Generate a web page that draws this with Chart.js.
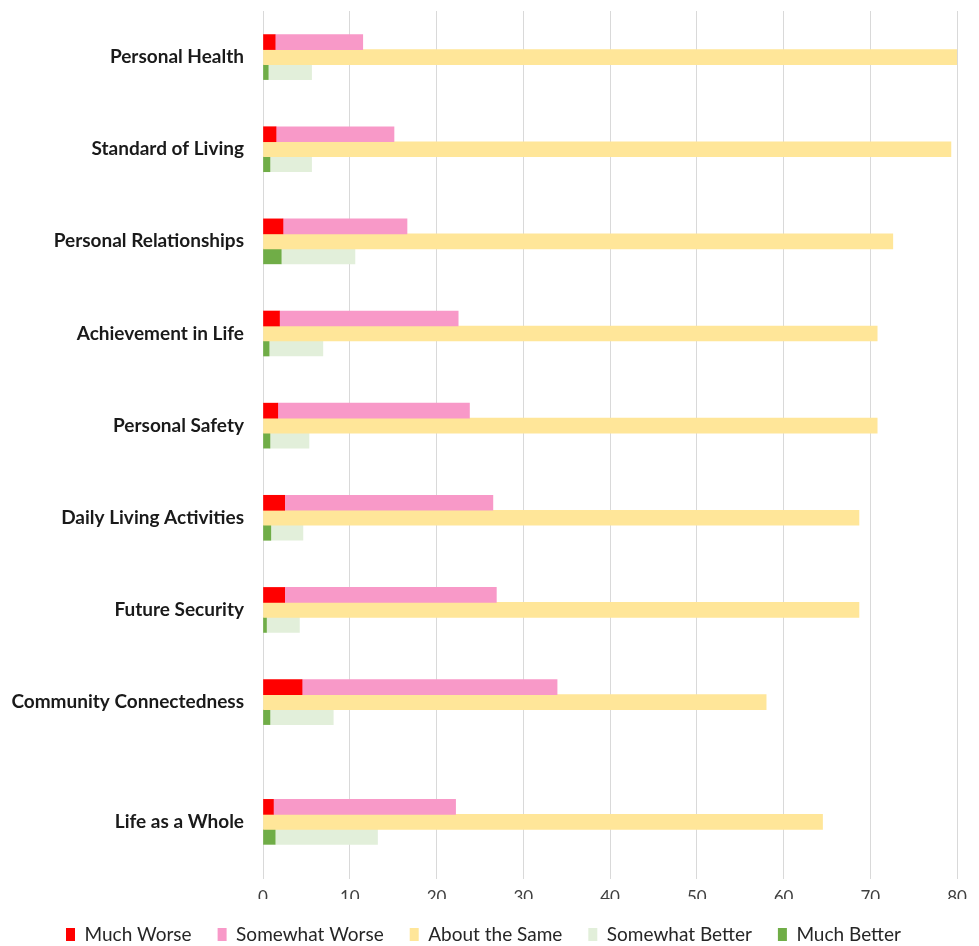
<!DOCTYPE html>
<html>
<head>
<meta charset="utf-8">
<script src="https://cdn.jsdelivr.net/npm/chart.js@4/dist/chart.umd.min.js"></script>
<style>
  html, body { margin: 0; padding: 0; background: #fff; }
</style>
</head>
<body>
<canvas id="chart" width="979" height="946"></canvas>
<script>
const categories = [
  'Personal Health', 'Standard of Living', 'Personal Relationships',
  'Achievement in Life', 'Personal Safety', 'Daily Living Activities',
  'Future Security', 'Community Connectedness', 'Life as a Whole'
];
const muchWorse      = [1.4, 1.5, 2.3, 1.9, 1.7, 2.5, 2.5, 4.5, 1.2];
const somewhatWorse  = [10.1, 13.6, 14.3, 20.6, 22.1, 24.0, 24.4, 29.4, 21.0];
const aboutSame      = [82.9, 79.3, 72.6, 70.8, 70.8, 68.7, 68.7, 58.0, 64.5];
const somewhatBetter = [5.0, 4.8, 8.5, 6.2, 4.5, 3.7, 3.8, 7.3, 11.8];
const muchBetter     = [0.6, 0.8, 2.1, 0.7, 0.8, 0.9, 0.4, 0.8, 1.4];
const xMin = 0, xMax = 80, xStep = 10;

const legendOrder = ['Much Worse', 'Somewhat Worse', 'About the Same', 'Somewhat Better', 'Much Better'];

// category axis that leaves a wider gap before one row (the "Life as a Whole" summary)
class GappedCategoryScale extends Chart.CategoryScale {
  static id = 'gappedCategory';

  buildTicks() {
    const ticks = super.buildTicks();
    this._valueRange += this.options.gapSize + this.options.tailSize;
    return ticks;
  }

  getPixelForValue(value) {
    if (typeof value !== 'number') value = this.parse(value);
    if (value === null) return NaN;
    if (value >= this.options.gapAt) value += this.options.gapSize;
    return this.getPixelForDecimal((value - this._startValue) / this._valueRange);
  }
}
Chart.register(GappedCategoryScale);

let datasets = [
  { label: 'Much Worse', data: muchWorse, backgroundColor: '#FF0000', stack: 'worse' },
  { label: 'Somewhat Worse', data: somewhatWorse, backgroundColor: '#F899C8', stack: 'worse' },
  { label: 'About the Same', data: aboutSame, backgroundColor: '#FFE699', stack: 'same' },
  // Much Better goes before Somewhat Better so it sits at zero
  { label: 'Much Better', data: muchBetter, backgroundColor: '#70AD47', stack: 'better' },
  { label: 'Somewhat Better', data: somewhatBetter, backgroundColor: '#E2EFDA', stack: 'better' }
];
datasets.forEach(d => {
  d.barThickness = 15;
  d.borderWidth = 0;
});

new Chart(document.getElementById('chart'), {
  type: 'bar',
  data: {
    labels: categories,
    datasets: datasets
  },
  options: {
    indexAxis: 'y',
    responsive: false,
    animation: false,
    devicePixelRatio: 1,
    layout: { padding: { top: 11, right: 22, bottom: -8, left: 10 } },
    scales: {
      x: {
        type: 'linear',
        position: 'bottom',
        min: xMin,
        max: xMax,
        stacked: true,
        grid: { color: '#D9D9D9', lineWidth: 1, drawTicks: false },
        border: { display: false },
        ticks: { stepSize: xStep, padding: 8, color: '#404040', font: { family: 'Lato', size: 17 } },
        afterFit: function(scale) { scale.height = 20; }
      },
      y: {
        type: 'gappedCategory',
        gapAt: 8,
        gapSize: 0.3,
        tailSize: 0.12,
        stacked: true,
        offset: true,
        grid: { display: false, drawTicks: false },
        border: { display: false },
        ticks: { padding: 19, color: '#1a1a1a', font: { family: 'Lato', size: 19, weight: 'bold' } },
        afterFit: function(scale) {
          scale.width = 253;
          scale.paddingTop = 0;
          scale.paddingBottom = 0;
        }
      }
    },
    plugins: {
      tooltip: { enabled: false },
      legend: {
        position: 'bottom',
        labels: {
          boxWidth: 9,
          boxHeight: 13,
          padding: 26,
          color: '#262626',
          font: { family: 'Lato', size: 19 },
          sort: (a, b) => legendOrder.indexOf(a.text) - legendOrder.indexOf(b.text)
        }
      }
    }
  }
});
</script>
</body>
</html>
